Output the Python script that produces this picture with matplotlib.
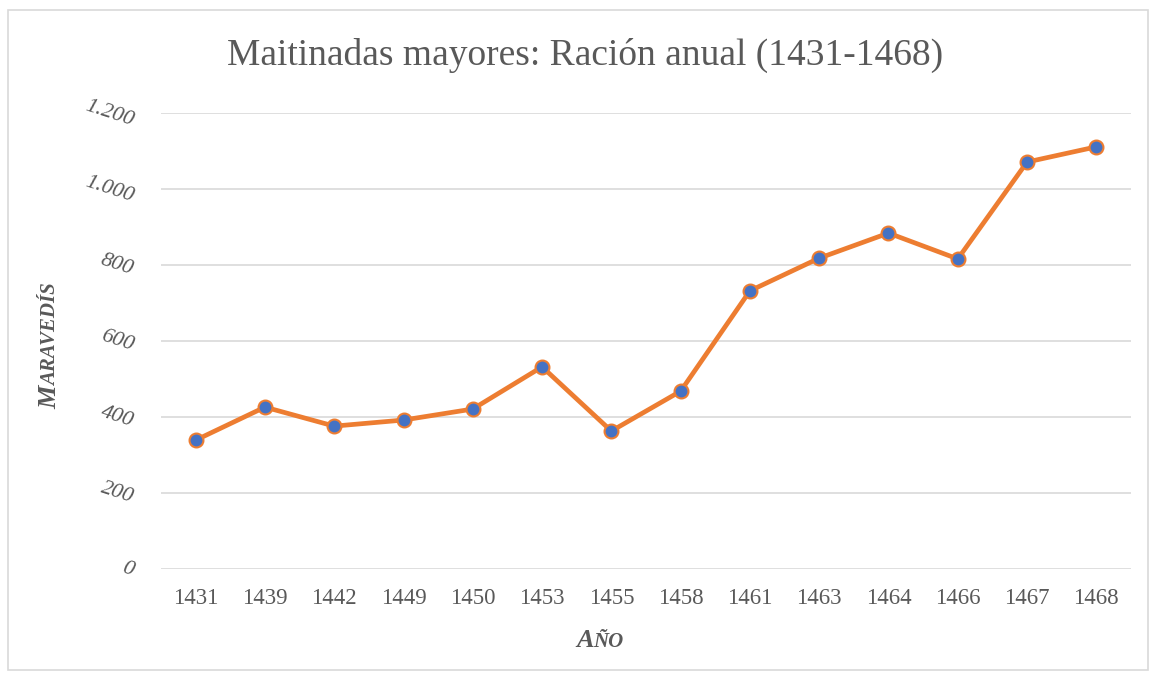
import matplotlib.pyplot as plt
from matplotlib.patches import Rectangle

# datos
years = ['1431', '1439', '1442', '1449', '1450', '1453', '1455', '1458',
         '1461', '1463', '1464', '1466', '1467', '1468']
racion = [339, 426, 376, 392, 421, 532, 363, 468, 732, 818, 884, 816, 1071, 1111]
yticks = [0, 200, 400, 600, 800, 1000, 1200]
ytick_labels = ['0', '200', '400', '600', '800', '1.000', '1.200']

plt.rcParams['font.family'] = ['Liberation Serif', 'DejaVu Serif']
grey = '#595959'

fig = plt.figure(figsize=(11.55, 6.75), dpi=100)
ax = fig.add_axes([161/1155, 1-569/675, (1131-161)/1155, (569-113)/675])

x = list(range(len(years)))
ax.plot(x, racion, color='#ED7D31', linewidth=3.4, marker='o', markersize=10,
        markerfacecolor='#4472C4', markeredgecolor='#ED7D31', markeredgewidth=1.5,
        zorder=3)

ax.set_xlim(-0.5, len(years) - 0.5)
ax.set_ylim(0, 1200)
ax.set_yticks(yticks)
ax.set_yticklabels(ytick_labels, fontstyle='italic', rotation=-18,
                   fontsize=16, color=grey, ha='right', va='center')
ax.set_xticks(x)
ax.set_xticklabels(years, fontsize=16.5, color=grey)
ax.tick_params(axis='both', length=0)
ax.tick_params(axis='x', pad=14)
ax.tick_params(axis='y', pad=18)
ax.grid(axis='y', color='#D9D9D9', linewidth=1.2)
ax.set_axisbelow(True)
for s in ax.spines.values():
    s.set_visible(False)

fig.text(585/1155, 1-55/675, 'Maitinadas mayores: Ración anual (1431-1468)',
         fontsize=27, color=grey, ha='center', va='center')

# rótulos de ejes en versalitas
lab = dict(fontweight='bold', fontstyle='italic', color=grey)
m = fig.text(50/1155, 1-409/675, 'M', fontsize=19, rotation=90,
             ha='center', va='bottom', **lab)
ax.annotate('ARAVEDÍS', xy=(1, 1), xycoords=m, fontsize=15, rotation=90,
            ha='right', va='bottom', annotation_clip=False, **lab)

a = fig.text(576/1155, 1-652/675, 'A', fontsize=19, ha='left', va='bottom', **lab)
ax.annotate('ÑO', xy=(1, 0), xycoords=a, fontsize=15, ha='left', va='bottom',
            annotation_clip=False, **lab)

fig.patches.append(Rectangle((8/1155, 5/675), (1148-8)/1155, (665-5)/675,
                             transform=fig.transFigure, fill=False,
                             edgecolor='#D9D9D9', linewidth=1.2))

fig.savefig('out.png', dpi=100)
